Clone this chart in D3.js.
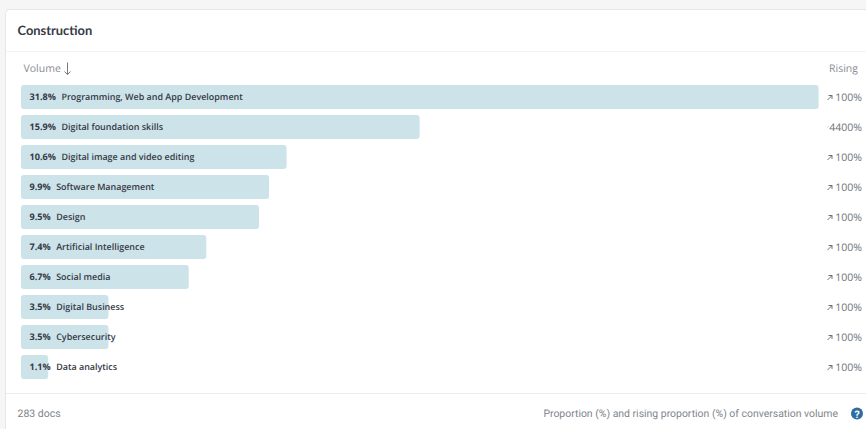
<!DOCTYPE html>
<html><head><meta charset="utf-8">
<script src="https://cdn.jsdelivr.net/npm/d3@7"></script>
<style>html,body{margin:0;padding:0;background:#f6f6f6;overflow:hidden}svg{display:block}text{text-rendering:geometricPrecision}</style>
</head><body><div id="c"></div>
<script>
const categories=["Programming, Web and App Development","Digital foundation skills","Digital image and video editing","Software Management","Design","Artificial Intelligence","Social media","Digital Business","Cybersecurity","Data analytics"];
const proportions=[31.8,15.9,10.6,9.9,9.5,7.4,6.7,3.5,3.5,1.1];
const rising=[100,4400,100,100,100,100,100,100,100,100];
const title="Construction", docs="283 docs", note="Proportion (%) and rising proportion (%) of conversation volume";

const W=866,H=429;
const svg=d3.select("#c").append("svg").attr("width",W).attr("height",H);
const ink="#343945", grey="#80858c";
svg.append("rect").attr("x",5.5).attr("y",9.5).attr("width",W).attr("height",H).attr("rx",4).attr("fill","#fff").attr("stroke","#e6e6e6");
svg.append("line").attr("x1",6).attr("x2",W).attr("y1",51.5).attr("y2",51.5).attr("stroke","#f3f3f3");
svg.append("line").attr("x1",6).attr("x2",W).attr("y1",393.5).attr("y2",393.5).attr("stroke","#ececec");
svg.append("text").attr("x",17.5).attr("y",34.5).attr("font-family","Lato").attr("font-weight",700).attr("font-size",12.9).attr("fill",ink).text(title);
const x=d3.scaleLinear().domain([0,31.8]).range([21,819]);
const y=d3.scaleBand().domain(categories).range([82,382]).paddingInner(0.2).paddingOuter(0.1);
const hdr={"font-family":"Open Sans","font-size":10.5,fill:"#888c92"};
const h1=svg.append("text").attr("x",23.5).attr("y",72).text("Volume");
const h2=svg.append("text").attr("x",858).attr("y",72).attr("text-anchor","end").text("Rising");
[h1,h2].forEach(t=>Object.entries(hdr).forEach(([k,v])=>t.attr(k,v)));
svg.append("path").attr("d","M67.5 62.5V74.5M64.5 71.5L67.5 74.5L70.5 71.5").attr("fill","none").attr("stroke","#777b82").attr("stroke-width",1);

const row=svg.selectAll("g.row").data(categories).join("g").attr("class","row").attr("transform",d=>`translate(0,${y(d)})`);
row.append("rect").attr("x",x(0)).attr("width",(d,i)=>x(proportions[i])-x(0)-0.4).attr("height",y.bandwidth()).attr("rx",3).attr("fill","#cce3e9");
const cy=y.bandwidth()/2+3;
const pct=row.append("text").attr("x",29.5).attr("y",cy).attr("font-family","Open Sans").attr("font-size",9.1).attr("font-weight",700).attr("fill",ink).text((d,i)=>proportions[i].toFixed(1)+"%");
row.append("text").attr("x",function(d,i){return 29.5+pct.nodes()[i].getComputedTextLength()+5.5}).attr("y",cy).attr("font-family","Open Sans").attr("font-size",8.95).attr("font-weight",600).attr("fill",ink).text(d=>d);
row.append("text").attr("x",862).attr("y",cy+1).attr("text-anchor","end").attr("font-family","Open Sans").attr("font-size",10.5).attr("fill","#6f747b").text((d,i)=>rising[i]+"%");
row.filter((d,i)=>rising[i]<1000).append("path").attr("d",`M827.5 ${cy}L832 ${cy-4.5}M828.5 ${cy-4.5}H832V${cy-1}`).attr("fill","none").attr("stroke","#5d6269").attr("stroke-width",0.9);
row.filter((d,i)=>rising[i]>=1000).append("path").attr("d",`M827.5 ${cy-2.5}L828.5 ${cy-3.5}`).attr("stroke","#9a9ea4").attr("stroke-width",0.8);

svg.append("text").attr("x",17.5).attr("y",417).attr("font-family","Roboto").attr("font-size",10.5).attr("fill",grey).text(docs);
svg.append("text").attr("x",838).attr("y",417).attr("text-anchor","end").attr("font-family","Roboto").attr("font-size",10.45).attr("fill",grey).text(note);
svg.append("circle").attr("cx",857).attr("cy",413.5).attr("r",6).attr("fill","#2d6da4");
svg.append("text").attr("x",857).attr("y",417.5).attr("text-anchor","middle").attr("font-family","Roboto").attr("font-weight",700).attr("font-size",10.5).attr("fill","#fff").text("?");
</script></body></html>
